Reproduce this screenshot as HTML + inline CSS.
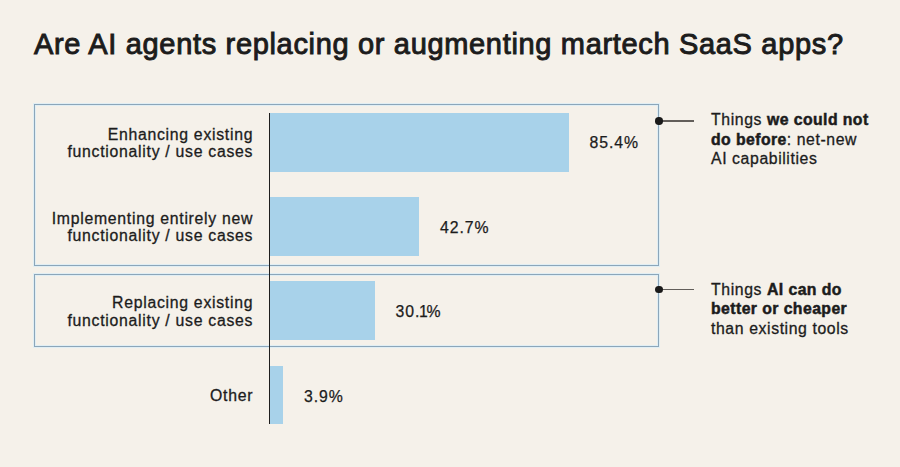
<!DOCTYPE html>
<html>
<head>
<meta charset="utf-8">
<style>
html,body{margin:0;padding:0;}
body{width:900px;height:467px;overflow:hidden;background:#f5f1ea;position:relative;font-family:"Liberation Sans",sans-serif;color:#1c1c1c;}
.abs{position:absolute;}
.title{left:34px;top:26px;font-size:29px;line-height:36px;white-space:nowrap;letter-spacing:0.67px;-webkit-text-stroke:0.95px #1c1c1c;}
.box{position:absolute;border:1px solid #8ca6ba;box-sizing:border-box;box-shadow:0 0 0 1px rgba(215,236,248,0.7), inset 0 0 0 1px rgba(215,236,248,0.7);}
.bar{position:absolute;background:#a8d2ea;}
.axis{position:absolute;left:268.6px;top:113px;width:1.6px;height:311px;background:#1e1e1e;}
.lbl{position:absolute;right:646.8px;text-align:right;font-size:15.8px;line-height:17.7px;white-space:nowrap;letter-spacing:0.72px;-webkit-text-stroke:0.3px #1c1c1c;}
.val{position:absolute;font-size:15.8px;line-height:18px;white-space:nowrap;letter-spacing:0.95px;-webkit-text-stroke:0.25px #1c1c1c;}
.dot{position:absolute;width:7.5px;height:7.5px;border-radius:50%;background:#1a1a1a;}
.ln{position:absolute;height:1.6px;background:#625e5a;}
.ann{position:absolute;left:711px;font-size:15.8px;line-height:19.5px;white-space:nowrap;letter-spacing:0.6px;-webkit-text-stroke:0.3px #1c1c1c;}
.ann b{letter-spacing:0.42px;-webkit-text-stroke:0.5px #1c1c1c;}
</style>
</head>
<body>
<div class="abs title">Are AI agents replacing or augmenting martech SaaS apps?</div>

<div class="box" style="left:34px;top:104px;width:625px;height:162px;"></div>
<div class="box" style="left:34px;top:274px;width:625px;height:73px;"></div>

<div class="bar" style="left:270px;top:113px;width:299px;height:58.5px;"></div>
<div class="bar" style="left:270px;top:197px;width:149.4px;height:58.5px;"></div>
<div class="bar" style="left:270px;top:281px;width:105px;height:59px;"></div>
<div class="bar" style="left:270px;top:365.5px;width:13px;height:58.5px;"></div>
<div class="axis"></div>

<div class="lbl" style="top:125.5px;">Enhancing existing<br>functionality / use cases</div>
<div class="lbl" style="top:209.5px;">Implementing entirely new<br>functionality / use cases</div>
<div class="lbl" style="top:293.9px;">Replacing existing<br>functionality / use cases</div>
<div class="lbl" style="top:387.3px;">Other</div>

<div class="val" style="left:589.5px;top:134.4px;">85.4%</div>
<div class="val" style="left:440px;top:219.2px;">42.7%</div>
<div class="val" style="left:395.5px;top:303.3px;">30.<span style="margin-left:-1.4px;margin-right:-2.2px">1</span>%</div>
<div class="val" style="left:304px;top:387.8px;">3.9%</div>

<div class="ln" style="left:659px;top:120px;width:34.5px;"></div>
<div class="dot" style="left:655px;top:117px;"></div>
<div class="ln" style="left:659px;top:288.5px;width:34.5px;"></div>
<div class="dot" style="left:655px;top:285.6px;"></div>

<div class="ann" style="top:110.4px;">Things <b>we could not</b><br><b>do before</b>: net-new<br>AI capabilities</div>
<div class="ann" style="top:279.6px;">Things <b>AI can do</b><br><b>better or cheaper</b><br>than existing tools</div>
</body>
</html>
